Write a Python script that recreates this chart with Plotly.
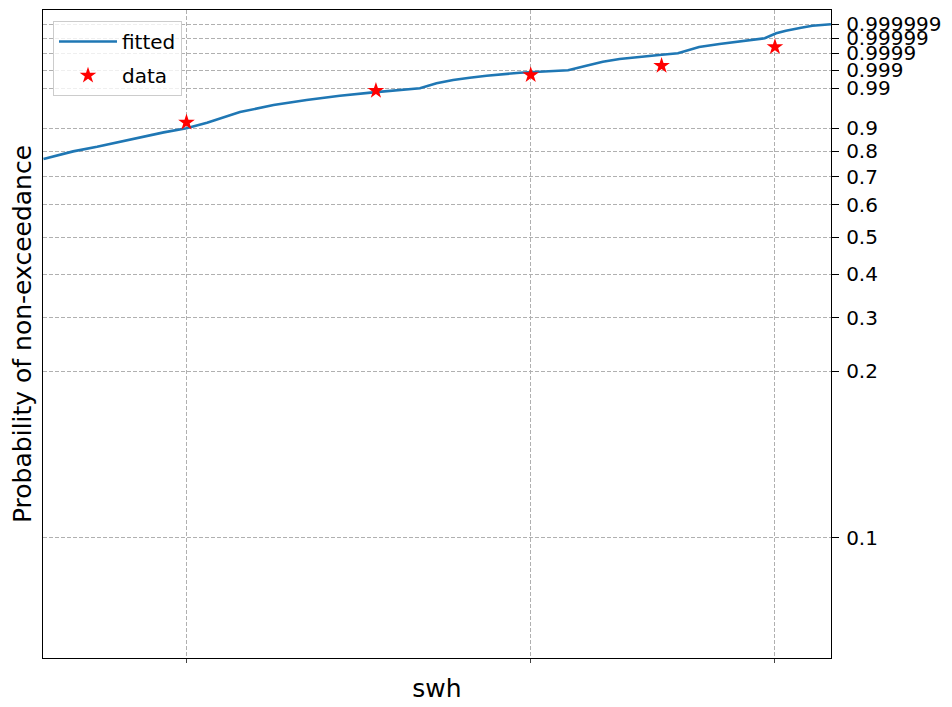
import numpy as np
import plotly.graph_objects as go

# ---- probability (non-exceedance) axis -------------------------------------
# The axis is piecewise linear in probability between the tick values below;
# SCALE_HEIGHTS gives the height of each tick on that scale.
PROB_TICKS = [0.1, 0.2, 0.3, 0.4, 0.5, 0.6, 0.7, 0.8, 0.9,
              0.99, 0.999, 0.9999, 0.99999, 0.999999]
PROB_TICK_TEXT = ["0.1", "0.2", "0.3", "0.4", "0.5", "0.6", "0.7", "0.8", "0.9",
                  "0.99", "0.999", "0.9999", "0.99999", "0.999999"]
SCALE_HEIGHTS = [0.0, 1.667, 2.200, 2.637, 3.007, 3.330, 3.610, 3.864, 4.094,
                 4.494, 4.674, 4.844, 4.994, 5.137]
SCALE_RANGE = [-1.20, 5.277]

# ---- significant wave height axis (log) ------------------------------------
SWH_TICKS = [2, 3, 4]
SWH_RANGE = [1.689, 4.273]

# ---- fitted distribution ---------------------------------------------------
FIT_SWH = [1.690, 1.750, 1.800, 1.872, 1.947, 2.000,
           2.049, 2.130, 2.216, 2.304, 2.396, 2.492, 2.592, 2.633,
           2.685, 2.738, 2.792, 2.848, 2.962, 3.080, 3.135,
           3.203, 3.266, 3.331, 3.398, 3.490, 3.568,
           3.617, 3.658, 3.747, 3.821, 3.897, 3.952,
           4.006, 4.052, 4.125, 4.180, 4.273]
FIT_PROB = [0.7697, 0.8000, 0.8200, 0.8522, 0.8826, 0.9000,
            0.9126, 0.9367, 0.9524, 0.9637, 0.9734, 0.9810, 0.98685, 0.9900,
            0.9925, 0.99415, 0.9953, 0.9963, 0.9978, 0.99888, 0.9990,
            0.999244, 0.999455, 0.999598, 0.999704, 0.999810, 0.9999,
            0.9999198, 0.9999378, 0.9999558, 0.9999696, 0.999984, 0.99999,
            0.999993147, 0.99999478, 0.99999667, 0.99999793, 0.99999881]

# ---- observed data ---------------------------------------------------------
DATA_SWH = [2.0, 2.5, 3.0, 3.5, 4.0]
DATA_PROB = [0.9135, 0.9846, 0.99665, 0.999243, 0.9999378]


def prob_scale(p):
    """Map a non-exceedance probability onto the probability-axis scale."""
    return np.interp(np.asarray(p, dtype=float), PROB_TICKS, SCALE_HEIGHTS)


FONT = "DejaVu Sans"
GRID = "#b0b0b0"

fig = go.Figure()

fig.add_trace(go.Scatter(
    x=FIT_SWH, y=prob_scale(FIT_PROB), mode="lines", name="fitted",
    legendgroup="fitted",
    line=dict(color="#1f77b4", width=2.6),
))
fig.add_trace(go.Scatter(
    x=DATA_SWH, y=prob_scale(DATA_PROB), mode="markers", name="data",
    legendgroup="data",
    marker=dict(symbol="star", size=12.5, color="red", line=dict(width=0)),
))

fig.update_layout(
    width=952, height=707,
    margin=dict(l=43, r=120.5, t=10, b=49.3),
    paper_bgcolor="white", plot_bgcolor="white",
    font=dict(family=FONT, size=20, color="black"),
    showlegend=True,
    legend=dict(
        x=0.0127, y=0.983, xanchor="left", yanchor="top",
        bgcolor="rgba(255,255,255,0.8)", bordercolor="#cccccc", borderwidth=1,
        font=dict(family=FONT, size=20),
        traceorder="grouped", tracegroupgap=5, itemwidth=58,
    ),
    xaxis=dict(
        type="log",
        range=[np.log10(SWH_RANGE[0]), np.log10(SWH_RANGE[1])],
        tickvals=SWH_TICKS, showticklabels=False,
        ticks="outside", ticklen=4, tickwidth=1, tickcolor="#444444",
        showgrid=True, gridcolor=GRID, gridwidth=1, griddash="4px,2px",
        showline=True, linecolor="black", linewidth=1.3, mirror=True,
        zeroline=False,
        title=dict(text="swh", font=dict(family=FONT, size=25), standoff=17),
    ),
    yaxis=dict(
        range=SCALE_RANGE, side="right",
        tickvals=SCALE_HEIGHTS, ticktext=PROB_TICK_TEXT,
        ticks="outside", ticklen=7, tickwidth=1.3, tickcolor="black",
        tickfont=dict(family=FONT, size=20), ticklabelstandoff=3,
        showgrid=True, gridcolor=GRID, gridwidth=1, griddash="4px,2px",
        showline=True, linecolor="black", linewidth=1.3, mirror=True,
        zeroline=False,
    ),
    annotations=[dict(
        text="Probability of non-exceedance", textangle=-90,
        xref="paper", yref="paper", x=-0.0266, y=0.5,
        xanchor="center", yanchor="middle", showarrow=False,
        font=dict(family=FONT, size=25),
    )],
)

fig.write_html("out.html")
